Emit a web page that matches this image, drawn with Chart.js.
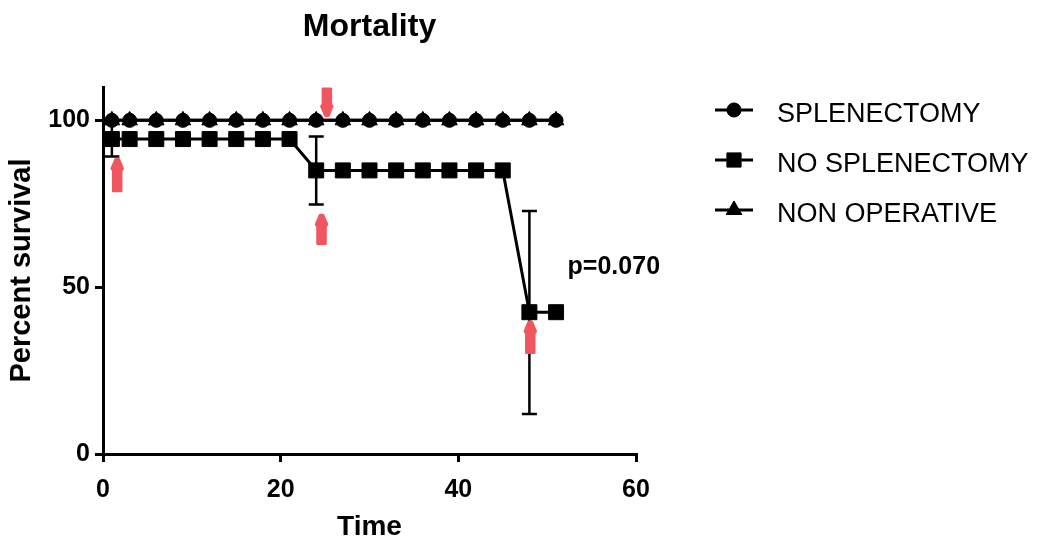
<!DOCTYPE html>
<html><head><meta charset="utf-8">
<script src="https://cdn.jsdelivr.net/npm/chart.js@4/dist/chart.umd.min.js"></script>
<style>html,body{margin:0;padding:0;background:#fff;overflow:hidden}#wrap{width:1038px;height:542px}</style>
</head><body><div id="wrap"><canvas id="c" width="1038" height="542"></canvas></div>
<script>
const chartTitle = 'Mortality';
const xAxisTitle = 'Time';
const yAxisTitle = 'Percent survival';
const seriesNames = ['SPLENECTOMY', 'NO SPLENECTOMY', 'NON OPERATIVE'];
const xTicks = [0, 20, 40, 60];
const yTicks = [0, 50, 100];
const splTimes = [1, 3, 6, 9, 12, 15, 18, 21, 24, 27, 30, 33, 36, 39, 42, 45, 48, 51];
const splValues = [100, 100, 100, 100, 100, 100, 100, 100, 100, 100, 100, 100, 100, 100, 100, 100, 100, 100];
const noSplTimes = [1, 3, 6, 9, 12, 15, 18, 21, 24, 27, 30, 33, 36, 39, 42, 45, 48, 51];
const noSplValues = [94.4, 94.4, 94.4, 94.4, 94.4, 94.4, 94.4, 94.4, 85, 85, 85, 85, 85, 85, 85, 85, 42.5, 42.5];
const nonOpTimes = [1, 3, 6, 9, 12, 15, 18, 21, 24, 27, 30, 33, 36, 39, 42, 45, 48, 51];
const nonOpValues = [100, 100, 100, 100, 100, 100, 100, 100, 100, 100, 100, 100, 100, 100, 100, 100, 100, 100];
const errTimes = [1, 24, 48];
const errCenters = [94.4, 85, 42.4];
const errHalf = [5.2, 10.2, 30.4];
const pValueText = 'p=0.070';
const pValueAt = [52.3, 53.9];
const arrowX = [1.6, 25.2, 24.6, 48.1];
const arrowTip = [88.9, 100.9, 72.1, 40.1];
const arrowTail = [78.4, 109.9, 62.6, 29.9];

const FONT = '"Liberation Sans", Arial, Helvetica, sans-serif';
const toPts = (xs, ys) => xs.map((x, i) => ({x: x, y: ys[i]}));

const extras = {
  id: 'extras',
  beforeDatasetsDraw(chart) {
    const ctx = chart.ctx, xs = chart.scales.x, ys = chart.scales.y;
    ctx.save();
    ctx.strokeStyle = '#000';
    ctx.lineWidth = 2.5;
    errTimes.forEach((t, i) => {
      const px = xs.getPixelForValue(t);
      const top = ys.getPixelForValue(errCenters[i] + errHalf[i]);
      const bot = ys.getPixelForValue(errCenters[i] - errHalf[i]);
      ctx.beginPath();
      ctx.moveTo(px, top); ctx.lineTo(px, bot);
      ctx.moveTo(px - 7.5, top); ctx.lineTo(px + 7.5, top);
      ctx.moveTo(px - 7.5, bot); ctx.lineTo(px + 7.5, bot);
      ctx.stroke();
    });
    ctx.restore();
  },
  afterDraw(chart) {
    const ctx = chart.ctx, xs = chart.scales.x, ys = chart.scales.y, ca = chart.chartArea;
    ctx.save();
    // title
    ctx.fillStyle = '#000';
    ctx.font = 'bold 32px ' + FONT;
    ctx.textAlign = 'center';
    ctx.textBaseline = 'alphabetic';
    ctx.fillText(chartTitle, (ca.left + ca.right) / 2, 36);
    // p value
    ctx.font = 'bold 25px ' + FONT;
    ctx.textAlign = 'left';
    ctx.fillText(pValueText, xs.getPixelForValue(pValueAt[0]), ys.getPixelForValue(pValueAt[1]));
    // arrows
    ctx.fillStyle = 'rgb(240,86,96)';
    ctx.strokeStyle = 'rgb(240,86,96)';
    ctx.lineWidth = 2.5;
    ctx.lineJoin = 'round';
    arrowX.forEach((ax, i) => {
      const px = xs.getPixelForValue(ax);
      const tip = ys.getPixelForValue(arrowTip[i]);
      const tail = ys.getPixelForValue(arrowTail[i]);
      const dir = tail > tip ? 1 : -1; // +1: arrow points up
      const head = 11 * dir;
      ctx.beginPath();
      ctx.moveTo(px - 1.5, tip + 1.5 * dir);
      ctx.lineTo(px + 1.5, tip + 1.5 * dir);
      ctx.lineTo(px + 5.5, tip + head);
      ctx.lineTo(px + 4, tip + head + 2 * dir);
      ctx.lineTo(px + 4, tail - 1.5 * dir);
      ctx.lineTo(px - 4, tail - 1.5 * dir);
      ctx.lineTo(px - 4, tip + head + 2 * dir);
      ctx.lineTo(px - 5.5, tip + head);
      ctx.closePath();
      ctx.fill(); ctx.stroke();
    });
    // legend
    const legendStyles = [
      {pointStyle: 'circle', radius: 7},
      {pointStyle: 'rect', radius: 10},
      {pointStyle: 'triangle', radius: 9}
    ];
    ctx.font = '27px ' + FONT;
    ctx.textAlign = 'left';
    ctx.textBaseline = 'alphabetic';
    seriesNames.forEach((name, i) => {
      const y = 110 + i * 50;
      ctx.strokeStyle = '#000';
      ctx.fillStyle = '#000';
      ctx.lineWidth = 3;
      ctx.beginPath(); ctx.moveTo(715, y); ctx.lineTo(753, y); ctx.stroke();
      ctx.lineWidth = 1;
      Chart.helpers.drawPoint(ctx, {pointStyle: legendStyles[i].pointStyle, radius: legendStyles[i].radius, rotation: 0, borderWidth: 1}, 734, y);
      ctx.fill();
      ctx.fillStyle = '#000';
      ctx.fillText(name, 777, y + 12);
    });
    ctx.restore();
  }
};

const common = {borderColor: '#000', backgroundColor: '#000', pointBackgroundColor: '#000', pointBorderColor: '#000', borderWidth: 3, pointBorderWidth: 1, tension: 0, fill: false};

new Chart(document.getElementById('c'), {
  type: 'line',
  data: {
    datasets: [
      Object.assign({label: seriesNames[2], data: toPts(nonOpTimes, nonOpValues), pointStyle: 'triangle', pointRadius: 9, order: 3}, common),
      Object.assign({label: seriesNames[0], data: toPts(splTimes, splValues), pointStyle: 'circle', pointRadius: 7, order: 2}, common),
      Object.assign({label: seriesNames[1], data: toPts(noSplTimes, noSplValues), pointStyle: 'rect', pointRadius: 10.6, order: 1}, common)
    ]
  },
  options: {
    responsive: false,
    animation: false,
    events: [],
    layout: {padding: {left: 0, right: 402, top: 87, bottom: 0}},
    plugins: {legend: {display: false}, tooltip: {enabled: false}, title: {display: false}},
    scales: {
      x: {
        type: 'linear', min: 0, max: 60,
        afterFit: s => { s.height = 88; },
        afterBuildTicks: s => { s.ticks = xTicks.map(v => ({value: v})); },
        grid: {drawOnChartArea: false, drawTicks: true, tickLength: 8, color: '#000', lineWidth: 3},
        border: {display: true, color: '#000', width: 3},
        ticks: {color: '#000', font: {family: FONT, size: 25, weight: 'bold'}, padding: 13, maxRotation: 0},
        title: {display: true, text: xAxisTitle, color: '#000', font: {family: FONT, size: 28, weight: 'bold', lineHeight: 1}, padding: {top: 0, bottom: 1}}
      },
      y: {
        type: 'linear', min: 0, max: 110,
        afterFit: s => { s.width = 103; },
        afterBuildTicks: s => { s.ticks = yTicks.map(v => ({value: v})); },
        grid: {drawOnChartArea: false, drawTicks: true, tickLength: 8, color: '#000', lineWidth: 3},
        border: {display: true, color: '#000', width: 3},
        ticks: {color: '#000', font: {family: FONT, size: 25, weight: 'bold'}, padding: 5},
        title: {display: true, text: yAxisTitle, color: '#000', font: {family: FONT, size: 29, weight: 'bold', lineHeight: 1}, padding: {top: 7, bottom: 0}}
      }
    }
  },
  plugins: [extras]
});
</script>
</body></html>
